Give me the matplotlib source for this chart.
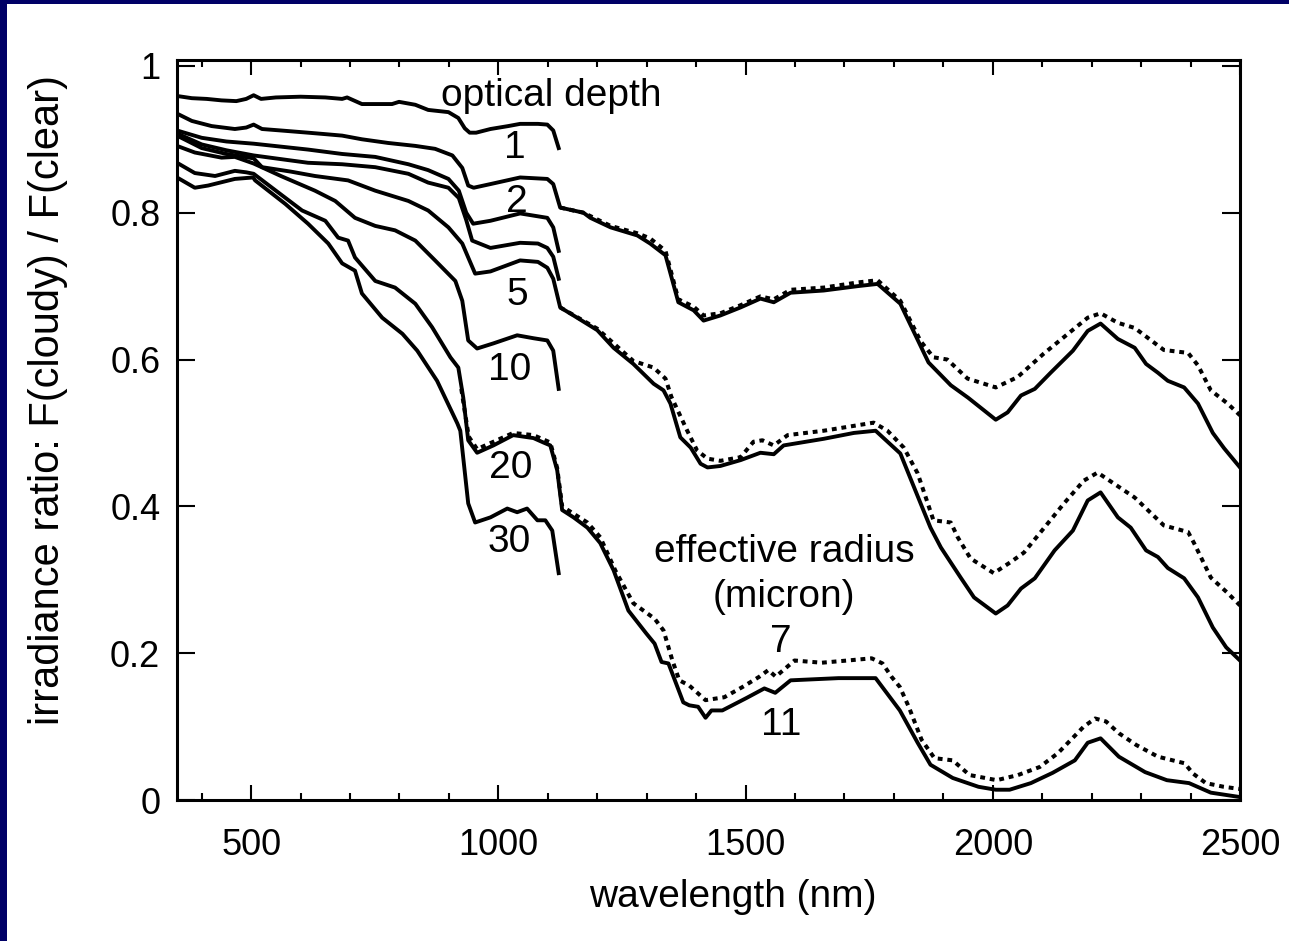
import numpy as np
import matplotlib
matplotlib.use("Agg")
import matplotlib.pyplot as plt
from matplotlib.patches import Rectangle
from matplotlib.ticker import MultipleLocator, FixedLocator, FixedFormatter

plt.rcParams["font.family"] = ["Liberation Sans", "DejaVu Sans"]

# ---------- data: irradiance ratio F(cloudy)/F(clear) ----------
# optical depth 1 (short range only)
wl_t1 = [350, 380, 410, 440, 470, 490, 505, 520, 550, 600, 650, 684, 694, 724, 751, 785,
         799, 832, 858, 899, 919, 932, 942, 955, 984, 1020, 1044, 1080, 1099, 1111, 1122]
r_t1 = [.959, .956, .955, .953, .952, .955, .960, .955, .957, .958, .957, .955, .957, .948, .948, .948,
        .951, .947, .940, .937, .929, .915, .909, .909, .914, .918, .921, .921, .920, .912, .888]

# optical depth 2, effective radius 11 (solid) and 7 (dotted)
wl_t2 = [350, 380, 420, 467, 490, 505, 522, 560, 615, 650, 684, 724, 777, 832, 872, 907, 927, 939,
         950, 984, 1044, 1099, 1111, 1125, 1172, 1186, 1227, 1281, 1307, 1338, 1364, 1395, 1415,
         1449, 1490, 1530, 1557, 1591, 1658, 1727, 1767, 1813, 1870, 1915, 1950, 2006, 2030, 2057,
         2085, 2117, 2162, 2192, 2218, 2253, 2287, 2310, 2334, 2354, 2387, 2415, 2445, 2468, 2500]
r_t2 = [.935, .925, .918, .914, .916, .920, .914, .912, .909, .907, .905, .900, .895, .891, .887, .878, .861, .837,
        .834, .839, .848, .846, .839, .807, .800, .793, .780, .769, .758, .742, .678, .667, .653,
        .660, .671, .683, .678, .691, .694, .700, .703, .676, .596, .565, .548, .518, .528, .551,
        .560, .582, .612, .639, .649, .628, .616, .594, .582, .571, .562, .540, .500, .479, .453]
wl_t2_r7 = [1125, 1172, 1227, 1281, 1307, 1338, 1364, 1395, 1415, 1449, 1490, 1530, 1557, 1591,
            1658, 1727, 1767, 1813, 1854, 1880, 1908, 1949, 2006, 2050, 2103, 2152, 2192, 2218,
            2253, 2287, 2346, 2395, 2415, 2441, 2475, 2500]
r_t2_r7 = [.807, .800, .782, .772, .765, .748, .682, .672, .660, .663, .674, .686, .682, .695,
           .698, .705, .708, .680, .625, .603, .600, .574, .562, .576, .608, .635, .657, .663,
           .650, .643, .613, .609, .592, .558, .540, .524]

# optical depths 3 and 4 (unlabelled, short range)
wl_t3 = [350, 400, 450, 505, 560, 615, 684, 751, 818, 858, 899, 920, 935, 949, 984, 1044, 1099, 1111, 1122]
r_t3 = [.912, .902, .897, .894, .890, .886, .880, .876, .866, .858, .846, .830, .800, .785, .789, .799, .793, .780, .748]

wl_t4 = [350, 400, 450, 505, 560, 615, 684, 751, 818, 858, 899, 920, 935, 947, 984, 1044, 1080, 1099, 1111, 1122]
r_t4 = [.908, .893, .885, .878, .873, .868, .866, .862, .853, .841, .834, .820, .790, .762, .752, .759, .758, .752, .740, .710]

# optical depth 5
wl_t5 = [350, 400, 450, 505, 522, 580, 629, 696, 751, 818, 858, 899, 927, 939, 953, 984, 1044, 1080,
         1099, 1111, 1125, 1152, 1200, 1233, 1273, 1314, 1334, 1348, 1368, 1389, 1409, 1423, 1449,
         1490, 1530, 1557, 1577, 1658, 1719, 1763, 1813, 1854, 1874, 1895, 1935, 1962, 2006, 2030,
         2057, 2085, 2125, 2162, 2192, 2218, 2253, 2279, 2310, 2334, 2354, 2387, 2415, 2445, 2472, 2500]
r_t5 = [.905, .888, .880, .874, .862, .856, .850, .844, .830, .816, .803, .780, .758, .739, .717, .720, .735, .733,
        .725, .710, .671, .660, .640, .616, .594, .567, .558, .540, .494, .480, .458, .453, .455,
        .463, .473, .471, .483, .492, .500, .503, .472, .404, .371, .344, .303, .276, .254, .265,
        .288, .302, .340, .367, .408, .419, .385, .371, .340, .331, .316, .302, .276, .235, .208, .190]
wl_t5_r7 = [1125, 1200, 1273, 1314, 1338, 1350, 1382, 1402, 1423, 1449, 1490, 1516, 1534, 1557, 1585,
            1658, 1759, 1787, 1820, 1848, 1880, 1915, 1929, 1955, 2002, 2036, 2063, 2103, 2144, 2184,
            2212, 2245, 2287, 2346, 2395, 2407, 2441, 2475, 2500]
r_t5_r7 = [.671, .642, .598, .589, .574, .549, .503, .476, .465, .462, .467, .488, .490, .483, .497,
           .503, .514, .503, .480, .445, .381, .378, .358, .329, .309, .324, .337, .370, .404, .435,
           .446, .431, .412, .374, .365, .350, .303, .282, .265]

# optical depth 10
wl_t10 = [350, 386, 440, 467, 505, 560, 629, 670, 710, 751, 791, 832, 872, 913, 927, 939, 957, 990,
          1038, 1071, 1099, 1111, 1122]
r_t10 = [.891, .882, .875, .876, .867, .850, .830, .816, .793, .782, .776, .762, .735, .707, .680, .626, .615, .622,
         .633, .629, .626, .612, .560]

# optical depth 20
wl_t20 = [350, 386, 427, 467, 490, 505, 550, 603, 650, 676, 696, 710, 751, 791, 832, 866, 903, 919,
          929, 939, 957, 990, 1030, 1071, 1091, 1105, 1119, 1129, 1152, 1180, 1206, 1233, 1263, 1299,
          1316, 1330, 1344, 1374, 1386, 1404, 1419, 1431, 1453, 1502, 1538, 1560, 1591, 1688, 1763,
          1812, 1848, 1874, 1919, 1971, 2006, 2034, 2077, 2121, 2166, 2192, 2218, 2255, 2308, 2352,
          2397, 2441, 2500]
r_t20 = [.868, .854, .850, .857, .855, .853, .830, .803, .789, .766, .762, .739, .707, .698, .676, .644, .603, .589,
         .548, .490, .473, .483, .497, .493, .487, .483, .449, .395, .385, .371, .350, .313, .258, .227,
         .213, .188, .186, .133, .129, .127, .112, .122, .122, .139, .152, .146, .163, .166, .166,
         .122, .078, .048, .030, .018, .014, .014, .023, .037, .054, .078, .084, .059, .038, .027,
         .023, .010, .004]
wl_t20_r7 = [925, 940, 957, 990, 1030, 1071, 1105, 1119, 1129, 1152, 1180, 1206, 1237, 1273, 1316,
             1334, 1352, 1366, 1386, 1419, 1457, 1494, 1528, 1546, 1561, 1573, 1599, 1654, 1706, 1755,
             1777, 1795, 1812, 1830, 1856, 1882, 1919, 1953, 2008, 2051, 2095, 2132, 2158, 2184, 2207,
             2229, 2255, 2290, 2334, 2388, 2405, 2431, 2467, 2500]
r_t20_r7 = [.560, .495, .478, .488, .500, .497, .487, .452, .400, .390, .378, .358, .312, .268, .247,
            .231, .190, .163, .156, .136, .140, .154, .168, .177, .168, .175, .190, .187, .190, .193,
            .186, .168, .154, .127, .082, .057, .054, .034, .027, .034, .045, .064, .082, .100, .111,
            .107, .091, .075, .059, .050, .036, .023, .018, .015]

# optical depth 30
wl_t30 = [350, 386, 413, 467, 504, 508, 569, 615, 656, 684, 710, 724, 765, 806, 836, 876, 917, 923,
          939, 953, 984, 1018, 1038, 1058, 1079, 1095, 1109, 1122]
r_t30 = [.848, .834, .837, .846, .848, .844, .812, .785, .758, .731, .721, .690, .657, .635, .612, .571, .513, .503,
         .404, .378, .385, .397, .392, .397, .381, .381, .367, .309]

solid_curves = [(wl_t1, r_t1), (wl_t2, r_t2), (wl_t3, r_t3), (wl_t4, r_t4), (wl_t5, r_t5),
                (wl_t10, r_t10), (wl_t20, r_t20), (wl_t30, r_t30)]
dotted_curves = [(wl_t2_r7, r_t2_r7), (wl_t5_r7, r_t5_r7), (wl_t20_r7, r_t20_r7)]

# curve labels: text, wavelength, ratio (baseline)
depth_labels = ["1", "2", "5", "10", "20", "30"]
depth_label_wl = [1034, 1038, 1038, 1022, 1024, 1022]
depth_label_r = [.874, .801, .674, .572, .4385, .338]
radius_labels = ["7", "11"]
radius_label_wl = [1572, 1572]
radius_label_r = [.2015, .0885]

# ---------- figure ----------
W, H = 1289, 941
fig = plt.figure(figsize=(W / 100, H / 100), dpi=100)
fig.patch.set_facecolor("white")
fig.patches.append(Rectangle((0, 0), 7 / W, 1, transform=fig.transFigure,
                             facecolor="#000066", lw=0, zorder=0))
fig.patches.append(Rectangle((0, 1 - 4 / H), 1, 4 / H, transform=fig.transFigure,
                             facecolor="#000066", lw=0, zorder=0))

ax = fig.add_axes([177 / W, 1 - 800 / H, (1240 - 177) / W, (800 - 60) / H])

for wl, r in solid_curves:
    ax.plot(wl, r, color="black", lw=2.8)
for wl, r in dotted_curves:
    ax.plot(wl, r, color="black", lw=2.9, linestyle=(0, (1.2, 1.2)))

ax.set_xlim(350, 2500)
ax.set_ylim(0, 1.008)

ax.xaxis.set_major_locator(MultipleLocator(500))
ax.xaxis.set_minor_locator(MultipleLocator(100))
ax.yaxis.set_major_locator(FixedLocator([0, 0.2, 0.4, 0.6, 0.8, 1.0]))
ax.yaxis.set_major_formatter(FixedFormatter(["0", "0.2", "0.4", "0.6", "0.8", "1"]))
ax.tick_params(axis="both", which="both", direction="in", top=True, right=True,
               width=1.5, colors="black")
ax.tick_params(axis="x", which="major", length=11, pad=20, labelsize=26)
ax.tick_params(axis="x", which="minor", length=5)
ax.tick_params(axis="y", which="major", length=13, pad=12, labelsize=26)
for s in ax.spines.values():
    s.set_linewidth(2.2)

fig.text(733 / W, 1 - 897 / H, "wavelength (nm)", ha="center", va="center", fontsize=28)
fig.text(48 / W, 1 - 400 / H, "irradiance ratio: F(cloudy) / F(clear)", ha="center", va="center",
         rotation=90, fontsize=30)

ax.text(1106, .946, "optical depth", ha="center", va="baseline", fontsize=28)
for t, x, y in zip(depth_labels, depth_label_wl, depth_label_r):
    ax.text(x, y, t, ha="center", va="baseline", fontsize=28)
ax.text(1578, .324, "effective radius", ha="center", va="baseline", fontsize=28)
ax.text(1578, .263, "(micron)", ha="center", va="baseline", fontsize=28)
for t, x, y in zip(radius_labels, radius_label_wl, radius_label_r):
    ax.text(x, y, t, ha="center", va="baseline", fontsize=28)

fig.savefig("out.png", dpi=100)
